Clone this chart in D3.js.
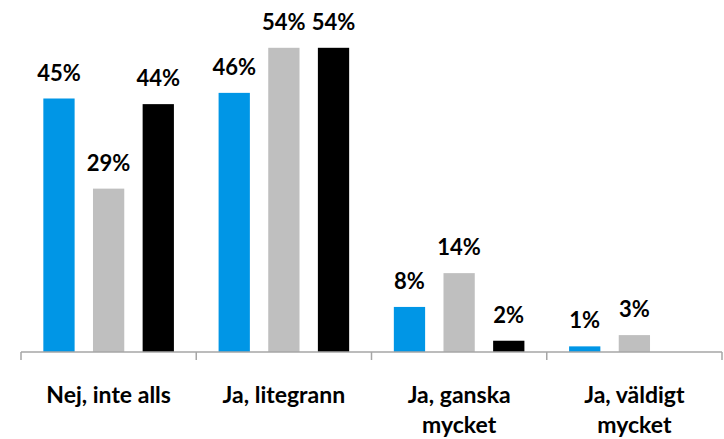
<!DOCTYPE html>
<html lang="sv">
<head>
<meta charset="UTF-8">
<script src="https://d3js.org/d3.v7.min.js"></script>
<style>
  body { margin: 0; background: #fff; }
  text { font-family: Lato, "Open Sans", sans-serif; font-weight: bold; fill: #000; }
</style>
</head>
<body>
<svg width="724" height="439"></svg>
<script>
const categories = [["Nej, inte alls"], ["Ja, litegrann"], ["Ja, ganska", "mycket"], ["Ja, väldigt", "mycket"]];
const seriesNames = ["s1", "s2", "s3"];
const s1 = [45, 46, 8, 1];
const s2 = [29, 54, 14, 3];
const s3 = [44, 54, 2, null];
const colors = ["#0096e6", "#bfbfbf", "#000000"];

const svg = d3.select("svg");
const x = d3.scaleBand().domain(d3.range(categories.length)).range([21, 722]);
const inner = d3.scaleBand().domain(seriesNames).range([0, x.bandwidth()]).paddingInner(0.37).paddingOuter(0.45);
const y = d3.scaleLinear().domain([0, 60]).range([352, 14]);

const rows = [];
[s1, s2, s3].forEach((vals, si) => {
  vals.forEach((v, ci) => { if (v !== null) rows.push({ ci, si, v }); });
});

svg.selectAll("rect.bar").data(rows).enter().append("rect")
  .attr("class", "bar")
  .attr("x", d => x(d.ci) + inner(seriesNames[d.si]))
  .attr("width", inner.bandwidth())
  .attr("y", d => y(d.v))
  .attr("height", d => y(0) - y(d.v))
  .attr("fill", d => colors[d.si]);

svg.selectAll("text.val").data(rows).enter().append("text")
  .attr("class", "val")
  .attr("x", d => x(d.ci) + inner(seriesNames[d.si]) + inner.bandwidth() / 2)
  .attr("y", d => y(d.v) - 18)
  .attr("text-anchor", "middle")
  .style("font-size", "22px")
  .text(d => d.v + "%");

// axis
const axis = svg.append("g").attr("stroke", "#a6a6a6").attr("stroke-width", 1.5);
axis.append("line").attr("x1", 21).attr("x2", 722).attr("y1", y(0)).attr("y2", y(0));
d3.range(categories.length + 1).forEach(i => {
  const xx = 21 + i * x.step();
  axis.append("line").attr("x1", xx).attr("x2", xx).attr("y1", y(0)).attr("y2", y(0) + 8);
});

const lab = svg.selectAll("text.cat").data(categories).enter().append("text")
  .attr("class", "cat")
  .attr("x", (d, i) => x(i) + x.bandwidth() / 2)
  .attr("y", 403)
  .attr("text-anchor", "middle")
  .style("font-size", "23px");
lab.selectAll("tspan").data(d => d).enter().append("tspan")
  .attr("x", function () { return d3.select(this.parentNode).attr("x"); })
  .attr("dy", (d, i) => i === 0 ? 0 : 30)
  .text(d => d);
</script>
</body>
</html>
